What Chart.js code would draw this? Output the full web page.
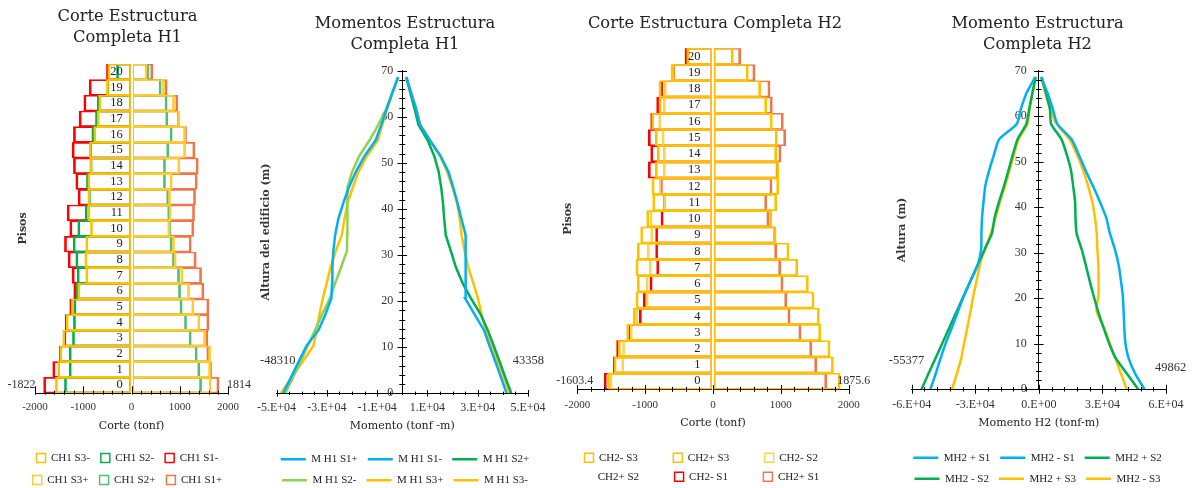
<!DOCTYPE html>
<html lang="es">
<head>
<meta charset="utf-8">
<title>Corte y momento - estructura completa</title>
<script src="https://cdn.jsdelivr.net/npm/chart.js@4.4.1/dist/chart.umd.min.js"></script>
<style>
  html, body { margin: 0; padding: 0; background: #fff; }
  body { position: relative; width: 1195px; height: 488px; overflow: hidden; }
  canvas { position: absolute; top: 0; }
</style>
</head>
<body>
<canvas id="corteH1" width="255" height="500" style="left:0"></canvas>
<canvas id="momentoH1" width="310" height="500" style="left:250px"></canvas>
<canvas id="corteH2" width="330" height="500" style="left:550px"></canvas>
<canvas id="momentoH2" width="315" height="500" style="left:880px"></canvas>
<script>
// ---- datos (piso 0 a 20) ----
const pisos = ['0','1','2','3','4','5','6','7','8','9','10','11','12','13','14','15','16','17','18','19','20'];

// Corte H1 (tonf)
const ch1S3neg = [-1577,-1529,-1487,-1425,-1356,-1252,-1114,-948,-969,-948,-851,-906,-906,-906,-865,-878,-782,-712,-678,-519,-491];
const ch1S2neg = [-1390,-1293,-1293,-1224,-1204,-1197,-1155,-1127,-1155,-1210,-1114,-961,-895,-934,-860,-870,-823,-747,-712,-510,-311];
const ch1S1neg = [-1822,-1633,-1495,-1404,-1376,-1280,-1197,-1231,-1314,-1390,-1280,-1335,-1107,-1155,-1204,-1231,-1204,-1086,-989,-878,-519];
const ch1S3pos = [1653,1640,1640,1536,1418,1293,1204,1065,927,892,795,823,809,844,1003,1121,1121,1005,892,685,325];
const ch1S2pos = [1453,1418,1363,1239,1141,1051,1017,996,892,844,810,795,774,705,705,774,844,754,740,616,360];
const ch1S1pos = [1814,1660,1605,1584,1605,1605,1501,1453,1342,1239,1293,1307,1328,1363,1384,1314,1141,996,961,740,442];

// Corte H2 (tonf)
const ch2S3neg = [-1554,-1460,-1396,-1273,-1175,-1136,-1116,-1136,-1116,-1067,-978,-890,-900,-851,-821,-851,-904,-796,-796,-619,-388];
const ch2S3pos = [1875.6,1775,1726,1588,1568,1490,1406,1249,1121,930,865,939,969,969,939,949,875,792,703,521,300];
const ch2S2neg = [-1519,-1347,-1332,-1220,-1140,-988,-988,-939,-969,-919,-929,-730,-792,-733,-733,-752,-801,-733,-718,-600,-380];
const ch2S2pos = [1610,1490,1420,1290,1130,1080,1020,990,930,910,820,780,860,950,990,1060,1020,860,830,610,400];
const ch2S1neg = [-1603.4,-1470,-1421,-1239,-1087,-1028,-929,-831,-846,-846,-767,-733,-780,-954,-919,-954,-919,-831,-772,-595,-413];
const ch2S1pos = [1677,1529,1456,1298,1136,1087,1032,998,939,924,826,792,870,960,1003,1072,1037,875,841,619,408];

// altura de cada nivel (m)
const alturas = [0,3.4,6.9,10.3,13.7,17.2,20.6,24.0,27.4,30.9,34.3,37.7,41.2,44.6,48.0,51.5,54.9,58.3,61.7,65.2,68.6];

// Momentos H1 (tonf-m)
const mh1S1pos = [41500,39300,37000,34700,32500,28700,25000,25200,25300,25300,25000,23600,22000,20300,18400,15200,11000,7000,5500,3500,1600];
const mh1S1neg = [-47400,-44300,-41200,-38100,-33300,-30500,-28200,-27900,-27800,-27400,-26700,-25500,-23500,-21300,-18500,-15000,-10600,-8300,-6200,-4000,-1700];
const mh1S2pos = [43358,41000,38700,36400,34000,31100,27300,23900,21300,19300,17300,16700,16200,15500,14500,12700,10100,6400,4900,3200,1600];
const mh1S2neg = [-46500,-43500,-40500,-37600,-34700,-31800,-28800,-26600,-24300,-22000,-21900,-21900,-21900,-21600,-20000,-17100,-13000,-9500,-6400,-3900,-1500];
const mh1S3pos = [42600,40300,37900,35500,33200,31500,30100,28200,26200,24800,23600,22900,21800,20000,17900,15000,11000,7200,5500,3600,1600];
const mh1S3neg = [-48310,-44000,-39600,-35300,-34100,-32900,-31600,-30000,-28500,-26400,-24100,-23000,-21800,-19700,-17500,-14000,-9700,-7900,-6000,-3800,-1700];

// Momentos H2 (tonf-m)
const mh2S1pos = [49862,45500,42300,40800,40300,40000,39600,38700,37600,35800,33500,31800,28800,25600,22100,18900,15500,8700,6500,4000,1100];
const mh2S1neg = [-51200,-48700,-46300,-43800,-40900,-38100,-35300,-32000,-28800,-27200,-27100,-26800,-26100,-25300,-23500,-21200,-18800,-10400,-8400,-5700,-1700];
const mh2S2pos = [46900,41600,36200,33000,30400,27900,25800,23900,22100,20100,17800,17300,17100,16200,15200,13200,10700,5800,5200,3300,1300];
const mh2S2neg = [-55377,-52100,-48700,-45400,-42100,-38700,-35400,-32100,-28800,-25400,-22100,-20900,-18800,-16500,-14400,-12300,-10100,-5900,-4500,-3000,-1500];
const mh2S3pos = [41500,38800,36000,33300,30600,27200,28100,28200,28100,27600,27300,26500,25200,23300,21000,18000,14500,8400,5200,3000,1100];
const mh2S3neg = [-41000,-38700,-36600,-35200,-33700,-32200,-30900,-29300,-27800,-25400,-22600,-20400,-18300,-16000,-13900,-11800,-9600,-5400,-4300,-2900,-1500];

// ---- estilo ----
Chart.defaults.font.family = '"Liberation Serif", "Times New Roman", serif';
Chart.defaults.color = '#333';
Chart.defaults.animation = false;

const rojo = '#FF0000', naranja = '#F0764A', verde = '#00B050', verdeClaro = '#4DBF73';
const amarillo = '#FFC000', amarilloClaro = '#FFCB2F', amarilloPalido = '#FFD34D';
const azul = '#00B0F0', verdeLimon = '#92D050';

const fuenteTitulo = { family: '"DejaVu Serif", serif', size: 16.3, weight: 'normal', lineHeight: 1.25 };
const fuenteEje = { family: '"DejaVu Serif", serif', size: 11, weight: 'normal', lineHeight: 1.2 };
const fuenteEjeY = { family: '"DejaVu Serif", serif', size: 11, weight: 'bold', lineHeight: 1.2 };

function formatoE(v) {
  if (v === 0) return '0.E+00';
  const exp = Math.floor(Math.log10(Math.abs(v)));
  const m = Math.round(v / Math.pow(10, exp));
  return m + '.E+' + String(exp).padStart(2, '0');
}

// marcas de los ejes (cruzan la linea del eje)
function marcasEjes(conf) {
  return {
    id: 'marcasEjes',
    afterDraw(chart) {
      const ctx = chart.ctx;
      const sx = chart.scales.x, sy = chart.scales.y;
      ctx.save();
      ctx.strokeStyle = '#000';
      ctx.lineWidth = 1;
      ctx.beginPath();
      if (conf.x) {
        const y0 = chart.chartArea.bottom;
        const n = Math.round((sx.max - sx.min) / conf.x.menor);
        for (let k = 0; k <= n; k++) {
          const px = Math.round(sx.getPixelForValue(sx.min + k * conf.x.menor)) + 0.5;
          const mayor = k % conf.x.cada === 0;
          ctx.moveTo(px, y0 - (mayor ? conf.x.arriba : conf.x.arribaMenor));
          ctx.lineTo(px, y0 + (mayor ? conf.x.abajo : conf.x.abajoMenor));
        }
      }
      if (conf.y) {
        const x0 = sx.getPixelForValue(0);
        const n = Math.round((sy.max - sy.min) / conf.y.menor);
        for (let k = 0; k <= n; k++) {
          const py = Math.round(sy.getPixelForValue(sy.min + k * conf.y.menor)) + 0.5;
          const l = k % conf.y.cada === 0 ? conf.y.largo : conf.y.corto;
          ctx.moveTo(x0 - l, py);
          ctx.lineTo(x0 + l, py);
        }
      }
      ctx.stroke();
      ctx.restore();
    }
  };
}

// etiquetas de valores extremos en la base
function etiquetasExtremos(items, tam) {
  return {
    id: 'etiquetasExtremos',
    afterDatasetsDraw(chart) {
      const ctx = chart.ctx;
      ctx.save();
      ctx.font = tam + 'px "Liberation Serif", serif';
      ctx.fillStyle = '#333';
      ctx.textBaseline = 'middle';
      items.forEach(e => {
        const el = chart.getDatasetMeta(e.ds).data[e.i];
        const dato = chart.data.datasets[e.ds].data[e.i];
        const valor = typeof dato === 'object' ? dato.x : dato;
        ctx.textAlign = e.align;
        ctx.fillText(String(valor), el.x + e.dx, el.y + e.dy);
      });
      ctx.restore();
    }
  };
}

function barra(etiqueta, datos, color) {
  return {
    label: etiqueta, data: datos, xAxisID: 'x', yAxisID: 'y',
    backgroundColor: 'rgba(0,0,0,0)', borderColor: color,
    borderWidth: { top: 1, bottom: 1, left: 2, right: 2 },
    borderSkipped: false, grouped: false, barPercentage: 1, categoryPercentage: 1
  };
}

function linea(etiqueta, valores, color, tension) {
  return {
    label: etiqueta, xAxisID: 'x', yAxisID: 'y',
    data: alturas.map((h, i) => ({ x: valores[i], y: h })),
    borderColor: color, backgroundColor: color, borderWidth: 2.5,
    showLine: true, pointRadius: 0, pointHoverRadius: 0, tension: tension
  };
}

function titulo(texto, arriba, abajo) {
  return { display: true, text: texto, font: fuenteTitulo, color: '#222', padding: { top: arriba, bottom: abajo } };
}

// eje vacio a los lados: reserva espacio y lleva el titulo vertical
function ejeRelleno(lado, ancho, texto, pad) {
  return {
    type: 'linear', axis: 'y', position: lado, display: true,
    grid: { display: false, drawTicks: false }, border: { display: false },
    ticks: { display: false },
    title: { display: !!texto, text: texto, font: fuenteEjeY, color: '#333', padding: { top: pad, bottom: 0 } },
    afterFit: s => { s.width = ancho; }
  };
}

function ejeCorte(pad, tArriba, tAbajo) {
  return {
    type: 'linear', min: -2000, max: 2000,
    grid: { display: false, drawTicks: false },
    border: { color: '#000', width: 1 },
    ticks: { stepSize: 1000, padding: pad, font: { size: 11 }, maxRotation: 0, autoSkip: false, callback: v => String(v) },
    title: { display: true, text: 'Corte (tonf)', font: fuenteEje, color: '#222', padding: { top: tArriba, bottom: tAbajo } }
  };
}

// las etiquetas de un eje centrado quedan pegadas a la linea: se separan con espacio
function ejePisos(espacio) {
  return {
    type: 'category', axis: 'y', position: { x: 0 }, reverse: true, offset: true,
    grid: { display: false, drawTicks: false },
    border: { color: '#fff', width: 2, z: 1 },
    ticks: {
      z: 1, font: { size: 12.5 }, color: '#222', autoSkip: false,
      callback: function (v) { return this.getLabelForValue(v) + espacio; }
    }
  };
}

function ejeMomento(lim, paso, texto, pad, tArriba, tAbajo) {
  return {
    type: 'linear', min: -lim, max: lim,
    grid: { display: false, drawTicks: false },
    border: { color: '#000', width: 1 },
    ticks: { stepSize: paso, padding: pad, font: { size: 12 }, maxRotation: 0, autoSkip: false, callback: v => formatoE(v) },
    title: { display: true, text: texto, font: fuenteEje, color: '#222', padding: { top: tArriba, bottom: tAbajo } }
  };
}

function ejeAltura(espacio) {
  return {
    type: 'linear', axis: 'y', position: { x: 0 }, min: 0, max: 70,
    grid: { display: false, drawTicks: false },
    border: { color: '#000', width: 1 },
    ticks: { stepSize: 10, font: { size: 12 }, autoSkip: false, callback: v => v + espacio }
  };
}

function leyendaBarras(pad, relleno) {
  const labels = { boxWidth: 9, boxHeight: 9, padding: pad, font: { size: 11 }, color: '#222' };
  if (relleno) {
    labels.generateLabels = chart => Chart.defaults.plugins.legend.labels.generateLabels(chart)
      .map(it => Object.assign(it, { text: it.text + relleno }));
  }
  return { position: 'bottom', labels: labels };
}

function leyendaLineas(pad) {
  return {
    position: 'bottom',
    labels: { usePointStyle: true, pointStyle: 'line', pointStyleWidth: 25, padding: pad, font: { size: 11 }, color: '#222' }
  };
}

// ---- Corte Estructura Completa H1 ----
new Chart(document.getElementById('corteH1'), {
  type: 'bar',
  data: {
    labels: pisos,
    datasets: [
      barra('CH1 S3-', ch1S3neg, amarillo),
      barra('CH1 S2-', ch1S2neg, verde),
      barra('CH1 S1-', ch1S1neg, rojo),
      barra('CH1 S3+', ch1S3pos, amarilloClaro),
      barra('CH1 S2+', ch1S2pos, verdeClaro),
      barra('CH1 S1+', ch1S1pos, naranja)
    ]
  },
  options: {
    indexAxis: 'y', responsive: false,
    layout: { padding: { left: 0, right: 0, top: 0, bottom: 4.5 } },
    scales: {
      x: ejeCorte(8, -2.8, 8.9),
      y: ejePisos('\u2002\u2009'),
      izq: ejeRelleno('left', 35, 'Pisos', 16.4),
      der: ejeRelleno('right', 27, '', 0)
    },
    plugins: {
      title: titulo(['Corte Estructura', 'Completa H1'], 6.8, 16.4),
      legend: leyendaBarras(11),
      tooltip: { enabled: false }
    }
  },
  plugins: [
    marcasEjes({ x: { menor: 200, cada: 5, arriba: 6.7, abajo: 1.7, arribaMenor: 2.3, abajoMenor: 1.7 } }),
    etiquetasExtremos([
      { ds: 2, i: 0, align: 'right', dx: -8, dy: 0 },
      { ds: 5, i: 0, align: 'left', dx: 8, dy: 0 }
    ], 12)
  ]
});

// ---- Momentos Estructura Completa H1 ----
new Chart(document.getElementById('momentoH1'), {
  type: 'scatter',
  data: {
    datasets: [
      linea('M H1 S1+', mh1S1pos, azul, 0),
      linea('M H1 S1-', mh1S1neg, azul, 0),
      linea('M H1 S2+', mh1S2pos, verde, 0),
      linea('M H1 S2-', mh1S2neg, verdeLimon, 0),
      linea('M H1 S3+', mh1S3pos, amarillo, 0),
      linea('M H1 S3-', mh1S3neg, amarillo, 0)
    ]
  },
  options: {
    responsive: false,
    layout: { padding: { left: 0, right: 0, top: 0, bottom: 4.2 } },
    scales: {
      x: ejeMomento(50000, 20000, 'Momento (tonf -m)', 7, -1.8, 10.7),
      y: ejeAltura('\u2002\u2005'),
      izq: ejeRelleno('left', 25, 'Altura del edificio (m)', 8.4),
      der: ejeRelleno('right', 32, '', 0)
    },
    plugins: {
      title: titulo(['Momentos Estructura', 'Completa H1'], 13.8, 16.15),
      legend: leyendaLineas(10),
      tooltip: { enabled: false }
    }
  },
  plugins: [
    marcasEjes({
      x: { menor: 5000, cada: 4, arriba: 3.3, abajo: 3.3, arribaMenor: 1.7, abajoMenor: 1.7 },
      y: { menor: 2, cada: 5, largo: 4.7, corto: 3 }
    }),
    etiquetasExtremos([
      { ds: 5, i: 0, align: 'center', dx: -3, dy: -33 },
      { ds: 2, i: 0, align: 'center', dx: 17, dy: -33 }
    ], 12.5)
  ]
});

// ---- Corte Estructura Completa H2 ----
new Chart(document.getElementById('corteH2'), {
  type: 'bar',
  data: {
    labels: pisos,
    datasets: [
      barra('CH2- S3', ch2S3neg, amarillo),
      barra('CH2+ S3', ch2S3pos, amarillo),
      barra('CH2- S2', ch2S2neg, amarilloPalido),
      barra('CH2+ S2', ch2S2pos, 'rgba(0,0,0,0)'),
      barra('CH2- S1', ch2S1neg, rojo),
      barra('CH2+ S1', ch2S1pos, naranja)
    ]
  },
  options: {
    indexAxis: 'y', responsive: false,
    layout: { padding: { left: 0, right: 0, top: 0, bottom: 7.8 } },
    scales: {
      x: ejeCorte(9.1, -4.3, 14.6),
      y: ejePisos('\u2002\u2002'),
      izq: ejeRelleno('left', 27.3, 'Pisos', 11.4),
      der: ejeRelleno('right', 31.3, '', 0)
    },
    plugins: {
      title: titulo('Corte Estructura Completa H2', 13.3, 14.6),
      legend: leyendaBarras(8, '\u2002\u2002\u2002\u2002\u2002'),
      tooltip: { enabled: false }
    }
  },
  plugins: [
    marcasEjes({ x: { menor: 200, cada: 5, arriba: 4.3, abajo: 4.7, arribaMenor: 2.5, abajoMenor: 2.5 } }),
    etiquetasExtremos([
      { ds: 4, i: 0, align: 'right', dx: -11, dy: 0 },
      { ds: 1, i: 0, align: 'left', dx: -3, dy: 0 }
    ], 12)
  ]
});

// ---- Momento Estructura Completa H2 ----
new Chart(document.getElementById('momentoH2'), {
  type: 'scatter',
  data: {
    datasets: [
      linea('MH2 + S1', mh2S1pos, azul, 0.2),
      linea('MH2 - S1', mh2S1neg, azul, 0.2),
      linea('MH2 + S2', mh2S2pos, verde, 0.2),
      linea('MH2 - S2', mh2S2neg, verde, 0.2),
      linea('MH2 + S3', mh2S3pos, amarillo, 0.2),
      linea('MH2 - S3', mh2S3neg, amarillo, 0.2)
    ]
  },
  options: {
    responsive: false,
    layout: { padding: { left: 0, right: 0, top: 0, bottom: 5.8 } },
    scales: {
      x: ejeMomento(60000, 30000, 'Momento H2 (tonf-m)', 8, -3.3, 12.6),
      y: ejeAltura('\u2003'),
      izq: ejeRelleno('left', 31.7, 'Altura (m)', 15.4),
      der: ejeRelleno('right', 29, '', 0)
    },
    plugins: {
      title: titulo(['Momento Estructura', 'Completa H2'], 13.8, 16.15),
      legend: leyendaLineas(10),
      tooltip: { enabled: false }
    }
  },
  plugins: [
    marcasEjes({
      x: { menor: 6000, cada: 5, arriba: 4.5, abajo: 4.5, arribaMenor: 2.2, abajoMenor: 2.2 },
      y: { menor: 2, cada: 5, largo: 4.7, corto: 2.8 }
    }),
    etiquetasExtremos([
      { ds: 3, i: 0, align: 'center', dx: -15, dy: -29 },
      { ds: 0, i: 0, align: 'center', dx: 26, dy: -22 }
    ], 12.5)
  ]
});
</script>
</body>
</html>
